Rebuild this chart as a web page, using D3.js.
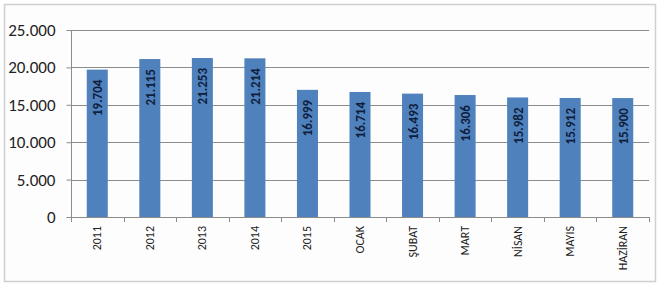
<!DOCTYPE html>
<html>
<head>
  <meta charset="utf-8">
  <script src="https://d3js.org/d3.v7.min.js"></script>
  <style>
    body { margin: 0; background: #fff; }
    text { font-family: Calibri, Carlito, "Liberation Sans", sans-serif; }
  </style>
</head>
<body>
  <svg width="660" height="287"></svg>
  <script>
    const categories = ["2011", "2012", "2013", "2014", "2015", "OCAK", "ŞUBAT", "MART", "NİSAN", "MAYIS", "HAZİRAN"];
    const values = [19704, 21115, 21253, 21214, 16999, 16714, 16493, 16306, 15982, 15912, 15900];
    const yTicks = [0, 5000, 10000, 15000, 20000, 25000];

    const svg = d3.select("svg");
    const fmt = d => d3.format(",")(d).replace(/,/g, ".");

    // outer frame
    svg.append("rect")
      .attr("x", 4.5).attr("y", 4.5)
      .attr("width", 651).attr("height", 277)
      .attr("fill", "#fdfdfd")
      .attr("stroke", "#d0d0d0")
      .attr("stroke-width", 1.5);

    const plotL = 71, plotR = 649, plotT = 30, plotB = 217;

    const x = d3.scaleBand().domain(categories).range([plotL, plotR]).paddingInner(0.6).paddingOuter(0.3);
    const y = d3.scaleLinear().domain([0, 25000]).range([plotB, plotT]);

    // gridlines
    svg.append("g")
      .selectAll("line")
      .data(yTicks.filter(d => d > 0))
      .join("line")
      .attr("x1", plotL).attr("x2", plotR)
      .attr("y1", d => Math.round(y(d)) + 0.5)
      .attr("y2", d => Math.round(y(d)) + 0.5)
      .attr("stroke", "#8c8c8c");

    // bars
    svg.append("g")
      .selectAll("rect")
      .data(values)
      .join("rect")
      .attr("x", (d, i) => x(categories[i]))
      .attr("y", d => y(d))
      .attr("width", x.bandwidth())
      .attr("height", d => plotB - y(d))
      .attr("fill", "#4f81bd");

    // value labels
    svg.append("g")
      .selectAll("text")
      .data(values)
      .join("text")
      .attr("transform", (d, i) => `translate(${x(categories[i]) + x.bandwidth() / 2 + 5},${y(d) + 10}) rotate(-90)`)
      .attr("text-anchor", "end")
      .attr("font-size", 13)
      .attr("font-weight", "bold")
      .attr("fill", "#0f1e3c")
      .text(d => fmt(d));

    // y axis
    const yAxis = svg.append("g")
      .attr("transform", `translate(${plotL + 0.5},0)`)
      .call(d3.axisLeft(y).tickValues(yTicks).tickSize(5).tickPadding(11).tickFormat(fmt));
    yAxis.select(".domain").attr("stroke", "#8c8c8c").attr("d", `M0,${plotT}V${plotB}`);
    yAxis.selectAll(".tick line").attr("stroke", "#8c8c8c");
    yAxis.selectAll(".tick text").attr("font-size", 17).attr("fill", "#222")
      .attr("font-family", "Calibri, Carlito, 'Liberation Sans', sans-serif");

    // x axis line and ticks between categories
    const bounds = d3.range(categories.length + 1).map(i => plotL + i * (plotR - plotL) / categories.length);
    const xg = svg.append("g");
    xg.append("line")
      .attr("x1", plotL).attr("x2", plotR)
      .attr("y1", plotB + 0.5).attr("y2", plotB + 0.5)
      .attr("stroke", "#8c8c8c");
    xg.selectAll(".xt")
      .data(bounds)
      .join("line")
      .attr("x1", d => Math.round(d) + 0.5).attr("x2", d => Math.round(d) + 0.5)
      .attr("y1", plotB).attr("y2", plotB + 5)
      .attr("stroke", "#8c8c8c");

    // category labels
    xg.selectAll(".xl")
      .data(categories)
      .join("text")
      .attr("transform", d => `translate(${x(d) + x.bandwidth() / 2 + 4},${plotB + 9}) rotate(-90)`)
      .attr("text-anchor", "end")
      .attr("font-size", 12)
      .attr("fill", "#222")
      .text(d => d);
  </script>
</body>
</html>
